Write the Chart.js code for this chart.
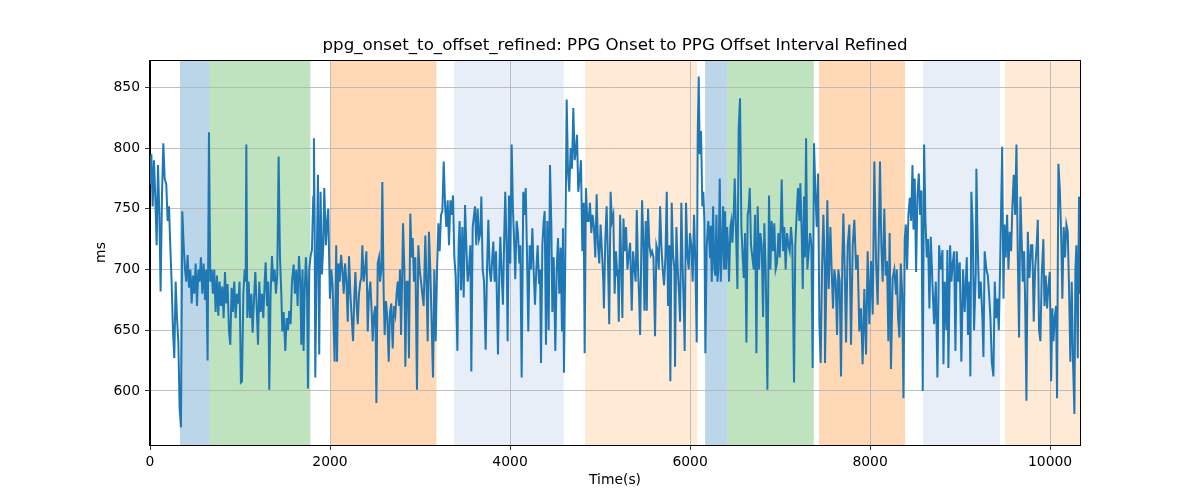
<!DOCTYPE html>
<html><head><meta charset="utf-8">
<script src="https://cdn.jsdelivr.net/npm/chart.js@4"></script>
<style>html,body{margin:0;padding:0;background:#fff;}#wrap{width:1200px;height:500px;}</style>
</head><body><div id="wrap"><canvas id="c" width="1200" height="500"></canvas></div>
<script>
const titleText = "ppg_onset_to_offset_refined: PPG Onset to PPG Offset Interval Refined";
const xLabel = "Time(s)";
const yLabel = "ms";

const times = [
0,15,30,44,59,74,89,104,118,133,148,163,181,196,211,226,240,255,270,285,300,315,329,344,359,374,389,403,418,433,448,463,477,492,507,522,537,551,566,581,596,611,625,640,655,670,685,699,714,729,744,759,773,788,803,818,833,847,862,877,892,907,921,936,951,966,981,995,1010,
1022,1037,1052,1063,1070,1081,1096,1111,1126,1140,1155,1170,1185,1200,1214,1229,1244,1259,1274,1285,1300,1314,1325,1340,1355,1370,1385,1399,1414,1429,1444,1459,1470,1485,1503,1518,1533,1547,1562,1577,1596,1610,1625,1640,1655,1670,1681,1695,1706,1718,1732,1744,1755,1769,1784,1799,1814,1821,1829,1836,1851,1866,1880,1895,1910,1925,1936,1954,1969,1980,1999,2014,2028,2051,2069,
2078,2093,2108,2123,2137,2152,2167,2182,2197,2211,2226,2241,2256,2271,2282,2296,2308,2322,2337,2348,2359,2374,2389,2404,2419,2433,2448,2463,2474,2489,2504,2515,2530,2544,2555,2570,2581,2596,2607,2622,2637,2652,2666,2681,2696,2711,2726,2740,2752,2766,2777,2789,2803,2811,2826,2837,2851,2866,2877,2892,2907,2918,2933,2948,2966,2981,2996,3011,3025,3040,3059,3074,3085,3099,3114,
3144,3159,3174,3189,3204,3218,3233,3248,3263,3278,3292,3307,3322,3337,3352,3366,3381,3396,3415,3429,3440,3455,3470,3485,3500,3514,3529,3544,3559,3570,3585,3600,3611,3625,3640,3655,3670,3681,3696,3711,3729,3744,3759,3773,3788,3803,3814,3829,3844,3866,3881,3892,3907,3921,3936,3947,3962,3973,3988,4003,4018,4032,4047,4058,4073,4088,4103,4114,4129,4147,
4163,4174,4189,4203,4218,4233,4248,4263,4277,4292,4307,4322,4333,4344,4359,4374,4385,4399,4414,4429,4444,4459,4470,4485,4503,4518,4533,4547,4562,4577,4588,4599,4614,4629,4644,4658,4673,4688,4703,4718,4732,4744,4758,4773,4788,4803,4818,4829,4843,4858,4873,4888,4903,4917,4932,4947,4962,4977,4991,5006,5021,5036,5043,5058,5073,5088,5102,5117,5132,5147,5162,5177,5191,
5197,5208,5223,5237,5248,5260,5274,5289,5304,5319,5334,5352,5367,5382,5396,5408,5422,5433,5445,5459,5467,5482,5493,5507,5519,5533,5548,5563,5578,5593,5611,5626,5641,5652,5667,5681,5696,5711,5726,5741,5755,5770,5781,5796,5811,5826,5833,5848,5863,5877,5889,5903,5918,5933,5940,5955,5970,5985,5999,6014,6029,6044,6059,6074,6085,6096,6107,6122,6136,6147,6159,6170,6185,6203,6222,
6230,6241,6256,6270,6281,6293,6304,6315,6330,6341,6355,6367,6378,6389,6400,6411,6422,6433,6448,6459,6470,6485,6496,6511,6526,6540,6555,6570,6585,6596,6611,6626,6640,6651,6663,6677,6692,6707,6722,6737,6751,6766,6781,6796,6811,6825,6840,6859,6877,6892,6907,6922,6936,6951,6966,6981,6996,7007,7018,7033,7047,7062,7077,7092,7107,7121,7136,7155,7169,7184,7199,7214,7225,7240,
7252,7266,7277,7289,7303,7318,7333,7348,7362,7377,7392,7407,7422,7437,7451,7466,7481,7496,7499,7514,7525,7540,7559,7573,7588,7603,7618,7633,7647,7662,7677,7692,7703,7718,7733,7751,7770,7788,7807,7825,7844,7862,7880,7899,7917,7936,7955,7973,7992,8010,8029,8047,8066,8084,8110,8125,8140,8158,8173,8188,8203,8217,8232,8251,8269,8288,
8297,8311,8326,8341,8356,8371,8385,8397,8411,8426,8441,8456,8471,8482,8496,8511,8526,8541,8556,8570,8585,8600,8615,8630,8644,8659,8674,8693,8711,8730,8748,8767,8785,8804,8815,8829,8848,8859,8870,8889,8903,8918,8933,8948,8963,8977,8996,9014,9033,9051,9074,9088,9103,9114,9125,9140,9155,9174,9181,9192,9211,9229,9248,9259,9273,9292,
9308,9322,9337,9352,9370,9385,9400,9415,9430,9444,9467,9482,9493,9507,9522,9537,9552,9567,9581,9596,9611,9626,9641,9655,9670,9685,9696,9711,9722,9737,9752,9770,9789,9803,9818,9833,9851,9863,9877,9892,9907,9925,9937,9951,9966,9981,9996,10011,10025,10037,10051,10066,10077,10092,10107,10122,10136,10151,10166,10181,10196,10210,10225,10240,10255,10270,10281,10292,10307,10321,10332
];

const values = [
770,795,752,790,760,720,786,745,682,760,804,775,770,740,752,718,690,650,627,690,660,640,586,570,748,720,700,690,712,685,700,672,695,680,705,670,700,690,710,680,705,675,700,625,813,690,700,680,700,665,695,662,690,670,686,660,698,672,688,650,638,685,665,690,660,680,672,690,607,
608,680,700,690,803,660,690,660,680,648,675,698,670,638,690,665,680,660,690,706,670,690,601,680,711,690,700,680,695,793,710,680,649,665,633,660,650,666,655,690,704,680,700,670,711,690,638,700,633,680,710,690,602,700,711,716,760,808,740,611,700,778,630,764,696,720,767,720,740,750,676,700,688,624,720,
624,705,690,712,700,680,705,690,657,711,680,660,641,680,698,670,655,680,690,693,720,690,700,715,649,680,690,665,641,663,670,590,705,710,690,700,772,680,646,674,660,624,665,672,635,670,663,680,690,670,700,646,700,738,700,620,690,690,627,746,710,726,690,710,601,720,700,690,680,670,728,680,641,731,700,
611,700,641,700,738,715,745,748,789,753,735,757,720,757,745,761,710,695,633,720,740,683,735,677,753,720,690,700,720,616,735,745,752,720,750,725,730,760,700,690,634,700,741,700,690,710,723,690,715,630,700,727,695,671,730,764,715,641,761,705,803,750,720,692,740,730,705,720,611,764,
745,767,710,649,720,700,734,698,671,700,720,688,700,623,720,740,748,638,740,650,786,735,665,710,633,700,726,680,718,649,734,615,710,840,780,764,800,783,833,790,798,811,764,775,790,715,755,631,767,740,740,755,730,745,735,710,762,720,705,737,715,690,668,724,752,707,655,764,740,745,680,715,695,
700,657,745,700,660,742,715,735,700,712,722,666,715,700,690,749,700,680,646,720,757,720,666,740,666,750,720,712,715,710,645,720,715,700,752,720,700,687,710,764,670,720,608,755,712,700,620,735,700,680,657,755,700,660,633,755,712,700,730,720,690,745,705,640,811,859,795,814,752,764,740,631,720,740,710,
736,690,752,700,695,745,690,700,775,690,720,752,700,748,700,735,720,690,735,740,722,745,775,730,684,816,841,735,710,693,730,640,745,750,767,720,710,700,745,631,752,700,730,720,661,738,700,601,761,700,740,715,738,700,705,730,710,735,774,715,735,700,730,720,715,735,720,607,720,745,767,740,771,731,
684,760,710,808,700,715,730,720,619,804,764,735,779,655,623,700,745,700,623,690,757,684,735,700,668,700,690,646,700,690,612,710,746,700,640,720,737,638,720,741,700,712,649,668,622,684,630,715,655,707,663,789,707,671,789,720,690,750,695,707,641,730,618,693,700,680,
700,660,644,705,680,594,725,737,700,745,759,740,786,733,775,698,760,779,745,765,600,803,740,710,725,668,727,688,655,690,611,720,700,716,622,690,650,716,619,720,690,705,715,633,715,690,706,624,700,665,710,646,690,612,764,735,650,698,783,731,676,690,660,628,715,700,
695,680,660,624,612,690,660,676,650,700,801,676,737,710,745,700,731,715,752,778,745,803,710,644,760,722,690,715,676,592,731,693,720,720,657,700,720,741,650,641,695,725,670,695,668,686,698,608,668,641,660,670,594,787,767,731,676,735,710,737,731,686,624,690,622,581,700,720,627,760,680
];

const spanStarts = [333, 663, 2007, 3378, 4833, 6167, 6415, 7433, 8589, 9500];
const spanEnds   = [663, 1781, 3181, 4596, 6078, 6415, 7374, 8389, 9444, 10500];
const spanColors = ['rgba(31,119,180,0.3)','rgba(44,160,44,0.3)','rgba(255,127,14,0.3)','rgba(174,199,232,0.3)','rgba(255,187,120,0.3)',
                    'rgba(31,119,180,0.3)','rgba(44,160,44,0.3)','rgba(255,127,14,0.3)','rgba(174,199,232,0.3)','rgba(255,187,120,0.3)'];
const xTicks = [0, 2000, 4000, 6000, 8000, 10000];
const yTicks = [600, 650, 700, 750, 800, 850];
const xMin = 0, xMax = 10332, yMin = 555.5, yMax = 872.5;

const n = Math.min(times.length, values.length);
const points = [];
for (let i = 0; i < n; i++) points.push({x: times[i], y: values[i]});

Chart.defaults.font.family = "'DejaVu Sans', sans-serif";
Chart.defaults.color = '#000';

const spanPlugin = {
  id: 'spans',
  beforeDraw(chart) {
    const {ctx, chartArea, scales} = chart;
    ctx.save();
    ctx.beginPath();
    ctx.rect(chartArea.left, chartArea.top, chartArea.right - chartArea.left, chartArea.bottom - chartArea.top);
    ctx.clip();
    for (let i = 0; i < spanStarts.length; i++) {
      const x0 = scales.x.getPixelForValue(spanStarts[i]);
      const x1 = scales.x.getPixelForValue(spanEnds[i]);
      ctx.fillStyle = spanColors[i];
      ctx.fillRect(x0, chartArea.top, x1 - x0, chartArea.bottom - chartArea.top);
    }
    ctx.restore();
  }
};
const framePlugin = {
  id: 'frame',
  afterDraw(chart) {
    const {ctx, chartArea} = chart;
    ctx.save();
    ctx.strokeStyle = '#000';
    ctx.lineWidth = 1;
    ctx.strokeRect(Math.round(chartArea.left) - 0.5, Math.round(chartArea.top) + 0.5,
                   Math.round(chartArea.right - chartArea.left) + 1, Math.round(chartArea.bottom - chartArea.top));
    ctx.restore();
  }
};

const tickFont = {family: "'DejaVu Sans', sans-serif", size: 13.9};
new Chart(document.getElementById('c'), {
  type: 'line',
  data: {datasets: [{
    data: points, borderColor: '#1f77b4', borderWidth: 2, pointRadius: 0, tension: 0, fill: false
  }]},
  options: {
    responsive: false, animation: false, devicePixelRatio: 1, parsing: false,
    layout: {padding: {left: 0, right: 120, top: 0, bottom: 0}},
    plugins: {
      legend: {display: false}, tooltip: {enabled: false},
      title: {display: true, text: titleText, fullSize: false, color: '#000',
              font: {family: "'DejaVu Sans', sans-serif", size: 16.67, weight: 'normal'},
              padding: {top: 36, bottom: 4}}
    },
    scales: {
      x: {
        type: 'linear', min: xMin, max: xMax,
        afterBuildTicks: s => { s.ticks = xTicks.map(v => ({value: v})); },
        afterFit: s => { s.height = 55; },
        grid: {color: '#b0b0b0', lineWidth: 0.8, tickLength: 5, tickColor: '#000', drawTicks: true},
        border: {display: true, color: '#000', width: 1},
        ticks: {color: '#000', font: tickFont, padding: 4, maxRotation: 0, autoSkip: false, callback: v => String(v)},
        title: {display: true, text: xLabel, color: '#000', font: tickFont, padding: {top: 0, bottom: 11}}
      },
      y: {
        min: yMin, max: yMax,
        afterBuildTicks: s => { s.ticks = yTicks.map(v => ({value: v})); },
        afterFit: s => { s.width = 150; },
        grid: {color: '#b0b0b0', lineWidth: 0.8, tickLength: 5, tickColor: '#000', drawTicks: true},
        border: {display: true, color: '#000', width: 1},
        ticks: {color: '#000', font: tickFont, padding: 5, autoSkip: false, callback: v => String(v)},
        title: {display: true, text: yLabel, color: '#000', font: tickFont, padding: {top: 93, bottom: 0}}
      }
    }
  },
  plugins: [spanPlugin, framePlugin]
});
</script></body></html>
